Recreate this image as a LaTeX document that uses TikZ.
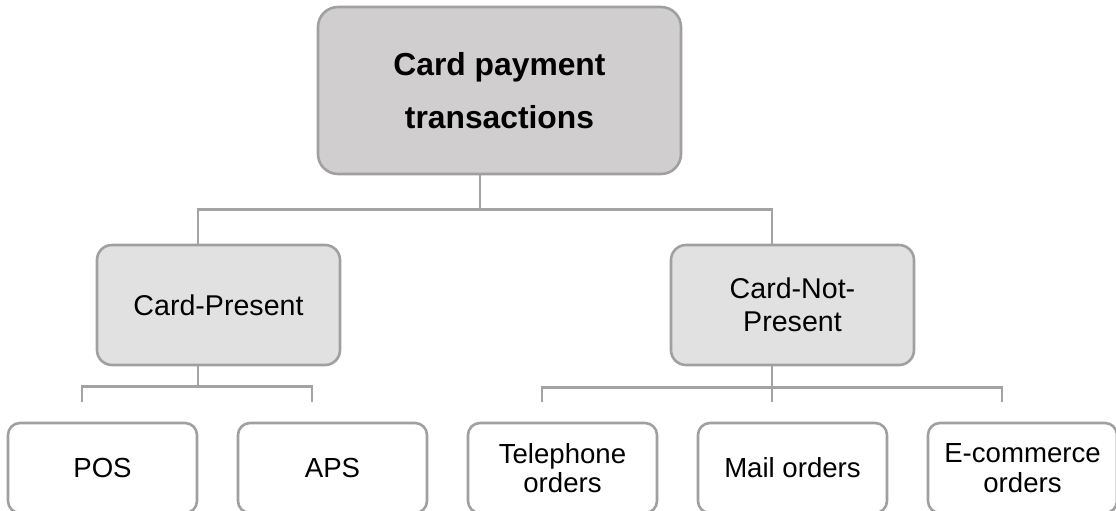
\documentclass[tikz,border=0pt]{standalone}
\usepackage{fontspec}
\setmainfont{Liberation Sans}
\definecolor{topfill}{HTML}{D0CECE}
\definecolor{midfill}{HTML}{E1E1E1}
\definecolor{bordergray}{HTML}{A0A0A0}
\definecolor{linegray}{HTML}{A3A3A3}
\begin{document}
\begin{tikzpicture}[x=0.5pt,y=-0.5pt,
  conn/.style={draw=linegray,line width=1.4pt},
  base/.style={draw=bordergray,line width=1.3pt,align=center,inner sep=0pt,text=black},
  topbox/.style={base,fill=topfill,rounded corners=10pt,minimum width=181.5pt,minimum height=83.5pt,font=\fontsize{15.9}{26.5}\selectfont\bfseries},
  midbox/.style={base,fill=midfill,rounded corners=7.5pt,minimum width=121.5pt,minimum height=60pt,font=\fontsize{14.3}{16.3}\selectfont},
  leafbox/.style={base,fill=white,rounded corners=6pt,minimum width=94.5pt,minimum height=45pt,font=\fontsize{13.8}{14.8}\selectfont}]
\useasboundingbox (0,0) rectangle (1116,510);
\clip (0,0) rectangle (1116,510);
\node[topbox] (root) at (499.5,90.5) {Card payment\\transactions};
\node[midbox] (cp) at (218.5,305) {Card-Present};
\node[midbox] (cnp) at (792.5,305) {Card-Not-\\Present};
\node[leafbox] (pos) at (102.5,468) {POS};
\node[leafbox] (aps) at (332.5,468) {APS};
\node[leafbox] (tel) at (562.5,468) {Telephone\\orders};
\node[leafbox] (mail) at (792.5,468) {Mail orders};
\node[leafbox] (eco) at (1022.5,468) {E-commerce\\orders};
% free ends above the leaves
\coordinate (posT) at ([xshift=-10.25pt,yshift=10pt]pos.north);
\coordinate (apsT) at ([xshift=-10.25pt,yshift=10pt]aps.north);
\coordinate (telT) at ([xshift=-10.25pt,yshift=10pt]tel.north);
\coordinate (mailT) at ([xshift=-10.25pt,yshift=10pt]mail.north);
\coordinate (ecoT) at ([xshift=-10.25pt,yshift=10pt]eco.north);
% root to level 1
\draw[conn] ([xshift=-9.75pt]root.south) -- ++(0,34) coordinate (rj);
\draw[conn] ([xshift=-10.25pt]cp.north) |- (rj) -| ([xshift=-10.25pt]cnp.north);
% Card-Present to leaves
\draw[conn] ([xshift=-10.25pt]cp.south) -- ++(0,20) coordinate (cpj);
\draw[conn] (posT) |- (cpj) -| (apsT);
% Card-Not-Present to leaves
\draw[conn] ([xshift=-10.25pt]cnp.south) -- ++(0,21) coordinate (cnpj) -- (mailT);
\draw[conn] (telT) |- (cnpj) -| (ecoT);
\end{tikzpicture}
\end{document}
